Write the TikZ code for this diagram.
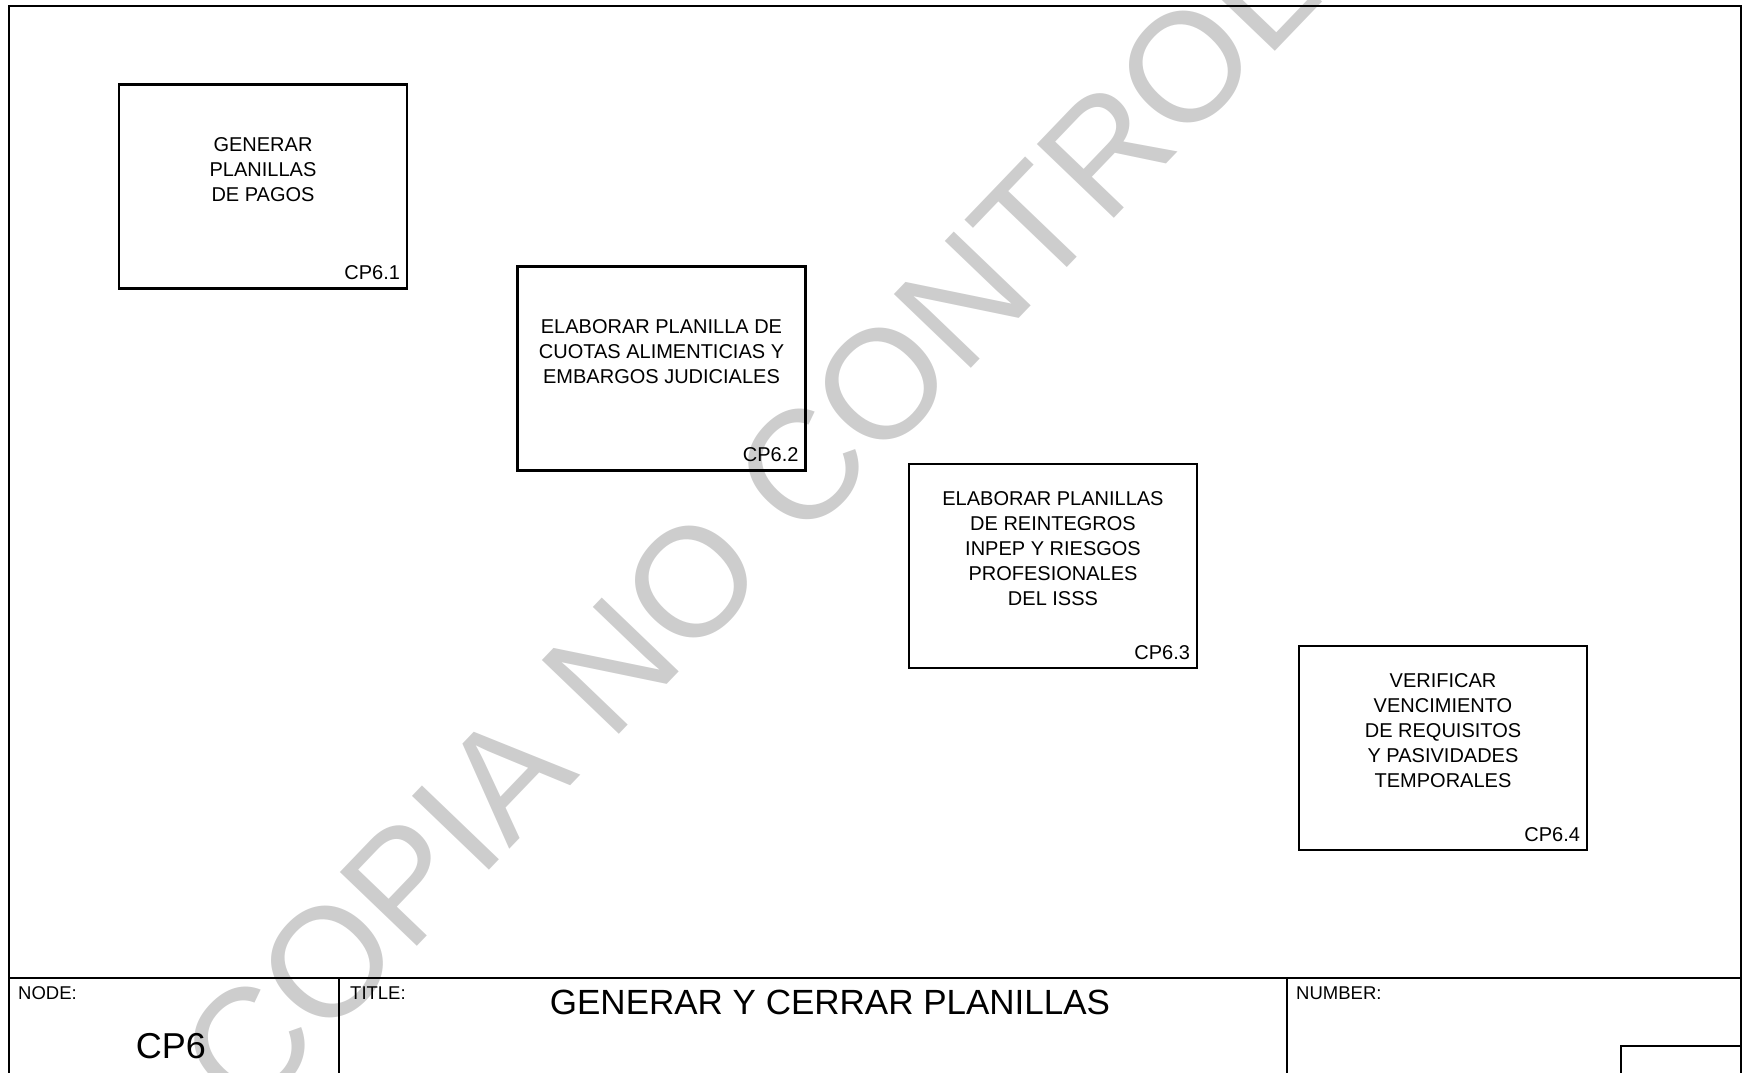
\documentclass[tikz,border=0pt]{standalone}
\usepackage{fontspec}
\setmainfont{Liberation Sans}
\definecolor{wmgray}{RGB}{205,205,205}
\begin{document}
\begin{tikzpicture}[x=1pt,y=-1pt,
  procbox/.style={draw=black, line width=2.4pt, rectangle, minimum width=288pt, minimum height=204pt, inner sep=0pt},
  proctext/.style={align=center, inner sep=0pt, font=\fontsize{20}{25}\selectfont},
  proclabel/.style={anchor=base east, inner sep=0pt, font=\fontsize{20}{25}\selectfont},
  framel/.style={line width=2pt, line cap=rect},
  hdr/.style={anchor=base west, inner sep=0pt, font=\fontsize{18.5}{20}\selectfont}]
\useasboundingbox (0,0) rectangle (1743,1073);
% watermark
\begin{scope}
\clip (0,0) rectangle (1743,1073);
\node[rotate=46.2, anchor=base west, inner sep=0pt, text=wmgray, font=\fontsize{155}{155}\selectfont] (wm) at (247,1123) {COPIA NO CONTROLADA};
\end{scope}
% frame
\draw[framel] (9,1073) -- (9,6) -- (1741,6) -- (1741,1073);
\draw[framel] (9,978) -- (1741,978);
\draw[framel] (339,978) -- (339,1073);
\draw[framel] (1287,978) -- (1287,1073);
\draw[framel] (1621,1073) -- (1621,1046) -- (1741,1046);
% title block texts
\node[hdr] (nodelbl) at (18,999) {NODE:};
\node[hdr] (titlelbl) at (350,999) {TITLE:};
\node[hdr] (numlbl) at (1296,999) {NUMBER:};
\node[anchor=base, inner sep=0pt, font=\fontsize{36}{40}\selectfont] (nodeval) at (171,1058.5) {CP6};
\node[anchor=base, inner sep=0pt, font=\fontsize{35}{40}\selectfont] (titleval) at (830,1014) {GENERAR Y CERRAR PLANILLAS};
% process boxes
\node[procbox] (b1) at (263,186.5) {};
\node[procbox] (b2) at (661.5,368.5) {};
\node[procbox] (b3) at (1053,566) {};
\node[procbox] (b4) at (1443,748) {};
\node[proctext] (t1) at ([yshift=17pt]b1.center) {GENERAR\\PLANILLAS\\DE PAGOS};
\node[proctext] (t2) at ([yshift=17pt]b2.center) {ELABORAR PLANILLA DE\\CUOTAS ALIMENTICIAS Y\\EMBARGOS JUDICIALES};
\node[proctext] (t3) at ([yshift=17pt]b3.center) {ELABORAR PLANILLAS\\DE REINTEGROS\\INPEP Y RIESGOS\\PROFESIONALES\\DEL ISSS};
\node[proctext] (t4) at ([yshift=17pt]b4.center) {VERIFICAR\\VENCIMIENTO\\DE REQUISITOS\\Y PASIVIDADES\\TEMPORALES};
\node[proclabel] (l1) at ([xshift=-8pt,yshift=10pt]b1.south east) {CP6.1};
\node[proclabel] (l2) at ([xshift=-8pt,yshift=10pt]b2.south east) {CP6.2};
\node[proclabel] (l3) at ([xshift=-8pt,yshift=10pt]b3.south east) {CP6.3};
\node[proclabel] (l4) at ([xshift=-8pt,yshift=10pt]b4.south east) {CP6.4};
\end{tikzpicture}
\end{document}
